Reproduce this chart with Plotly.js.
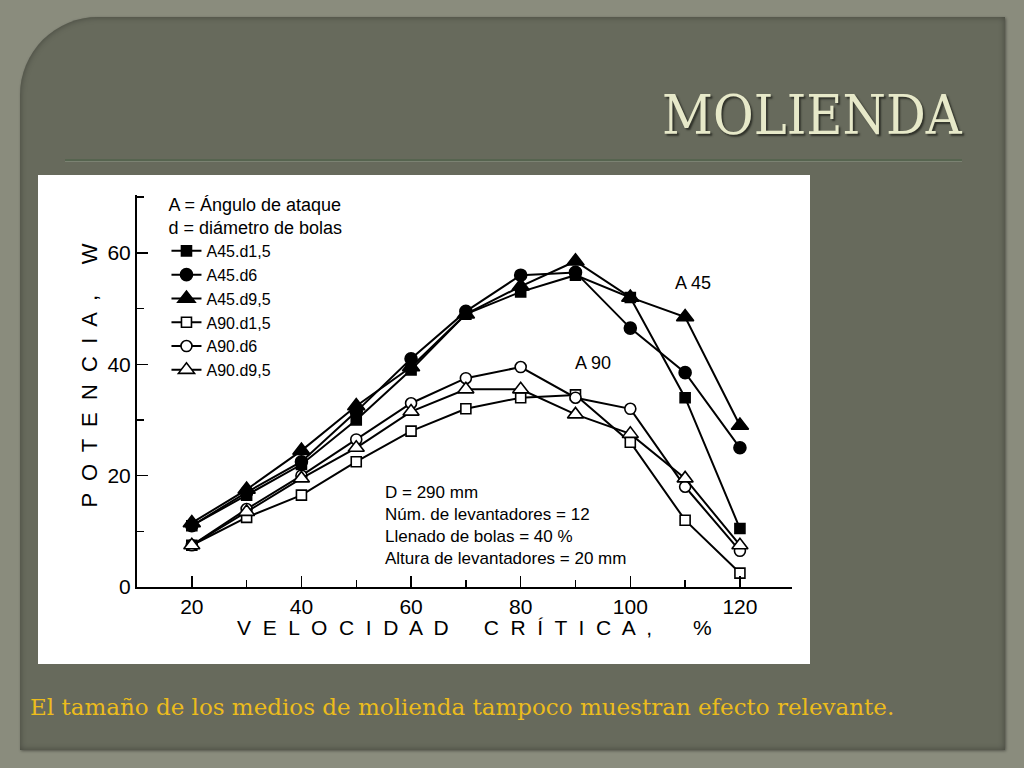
<!DOCTYPE html>
<html>
<head>
<meta charset="utf-8">
<script src="https://cdn.plot.ly/plotly-3.0.1.min.js"></script>
<style>
  html, body { margin: 0; padding: 0; }
  body {
    width: 1024px; height: 768px; overflow: hidden; position: relative;
    background-color: #8a8c7d;
  }
  #panel {
    position: absolute; left: 20px; top: 17px; width: 985px; height: 733px;
    background: #676a5c;
    border-top-left-radius: 78px;
    box-shadow: inset 0 0 6px rgba(0,0,0,0.35), 1px 1px 3px rgba(0,0,0,0.4);
  }
  #title {
    position: absolute; right: 62px; top: 84px;
    font-family: "DejaVu Serif", serif; font-size: 54px;
    color: #e7e9c9;
    transform: scaleX(0.92); transform-origin: right center;
    text-shadow: 2px 2px 2px #2e3028;
  }
  #rule {
    position: absolute; left: 65px; top: 159px; width: 897px; height: 0;
    border-top: 2px solid #56644f; border-bottom: 1px solid #7b8272;
  }
  #chart {
    position: absolute; left: 38px; top: 175px; width: 772px; height: 489px;
    background: #ffffff;
  }
  #caption {
    position: absolute; left: 30px; top: 694px;
    font-family: "DejaVu Serif", serif; font-size: 23px;
    color: #ecbc1c;
  }
</style>
</head>
<body>
<div id="panel"></div>
<div id="title">MOLIENDA</div>
<div id="rule"></div>
<div id="chart"></div>
<div id="caption">El tamaño de los medios de molienda tampoco muestran efecto relevante.</div>
<script>
// velocidad critica, %
var velocidad = [20, 30, 40, 50, 60, 70, 80, 90, 100, 110, 120];

// potencia, W
var a45d15 = [11, 16.5, 22, 30, 39, 49, 53, 56, 52, 34, 10.5];
var a45d6 = [11, 17, 22.5, 31.5, 41, 49.5, 56, 56.5, 46.5, 38.5, 25];
var a45d95 = [11.5, 17.5, 24.5, 32.5, 39.5, 49, 54, 58.5, 52, 48.5, 29];
var a90d15 = [7.5, 12.5, 16.5, 22.5, 28, 32, 34, 34.5, 26, 12, 2.5];
var a90d6 = [7.5, 14, 20, 26.5, 33, 37.5, 39.5, 34, 32, 18, 6.5];
var a90d95 = [7.5, 13.5, 19.5, 25, 31.5, 35.5, 35.5, 31, 27.5, 19.5, 7.5];

var seriesNames = ['A45.d1,5', 'A45.d6', 'A45.d9,5', 'A90.d1,5', 'A90.d6', 'A90.d9,5'];

var fontFam = '"Liberation Sans", Arial, sans-serif';

function serie(name, y, symbol, filled, size) {
  return {
    x: velocidad,
    y: y,
    name: name,
    type: 'scatter',
    mode: 'lines+markers',
    line: { color: '#000', width: 2 },
    marker: {
      symbol: symbol,
      size: size,
      color: filled ? '#000' : '#fff',
      line: { color: '#000', width: 1.6 }
    }
  };
}

var data = [
  serie(seriesNames[0], a45d15, 'square', true, 10),
  serie(seriesNames[1], a45d6, 'circle', true, 12),
  serie(seriesNames[2], a45d95, 'triangle-up', true, 15),
  serie(seriesNames[3], a90d15, 'square', false, 10),
  serie(seriesNames[4], a90d6, 'circle', false, 11),
  serie(seriesNames[5], a90d95, 'triangle-up', false, 14)
];

var layout = {
  width: 772,
  height: 489,
  margin: { l: 99, r: 18, t: 20, b: 77 },
  paper_bgcolor: '#ffffff',
  plot_bgcolor: '#ffffff',
  font: { family: fontFam, color: '#000' },
  showlegend: true,
  legend: {
    x: 0.045,
    y: 1.02,
    xanchor: 'left',
    yanchor: 'top',
    bgcolor: 'rgba(0,0,0,0)',
    font: { family: fontFam, size: 16, color: '#000' },
    tracegroupgap: 0,
    title: {
      text: 'A = Ángulo de ataque<br>d = diámetro de bolas',
      side: 'top',
      font: { family: fontFam, size: 18, color: '#000' }
    }
  },
  xaxis: {
    range: [10, 129.5],
    showgrid: false,
    zeroline: false,
    showline: true,
    linecolor: '#000',
    linewidth: 2,
    ticks: 'inside',
    ticklen: 11,
    tickwidth: 1.5,
    tickcolor: '#000',
    tick0: 0,
    dtick: 20,
    minor: { ticks: 'inside', ticklen: 7, tickwidth: 1.5, tickcolor: '#000', tick0: 0, dtick: 10, showgrid: false },
    tickfont: { family: fontFam, size: 21, color: '#000' }
  },
  yaxis: {
    range: [0, 70.4],
    showgrid: false,
    zeroline: false,
    showline: true,
    linecolor: '#000',
    linewidth: 2,
    ticks: 'inside',
    ticklen: 11,
    tickwidth: 1.5,
    tickcolor: '#000',
    tick0: 0,
    dtick: 20,
    minor: { ticks: 'inside', ticklen: 7, tickwidth: 1.5, tickcolor: '#000', tick0: 0, dtick: 10, showgrid: false },
    tickfont: { family: fontFam, size: 21, color: '#000' }
  },
  annotations: [
    {
      xref: 'paper', yref: 'paper', x: -0.095, y: 0.54,
      text: 'P  O  T  E  N  C  I  A  ,     W',
      textangle: -90, showarrow: false,
      font: { family: fontFam, size: 22, color: '#000' }
    },
    {
      xref: 'paper', yref: 'paper', x: 0.516, y: -0.138,
      text: 'V  E  L  O  C  I  D  A  D      C  R  Í  T  I  C  A  ,       %',
      showarrow: false,
      font: { family: fontFam, size: 21, color: '#000' }
    },
    {
      x: 111.4, y: 54.6, text: 'A 45', showarrow: false,
      font: { family: fontFam, size: 18, color: '#000' }
    },
    {
      x: 93.2, y: 40.2, text: 'A 90', showarrow: false,
      font: { family: fontFam, size: 18, color: '#000' }
    },
    {
      x: 54.9, y: 19, xanchor: 'left', yanchor: 'top', align: 'left',
      text: 'D = 290 mm<br>Núm. de levantadores = 12<br>Llenado de bolas = 40 %<br>Altura de levantadores = 20 mm',
      showarrow: false,
      font: { family: fontFam, size: 17, color: '#000' }
    }
  ]
};

Plotly.newPlot('chart', data, layout, { displayModeBar: false, staticPlot: true });
</script>
</body>
</html>
